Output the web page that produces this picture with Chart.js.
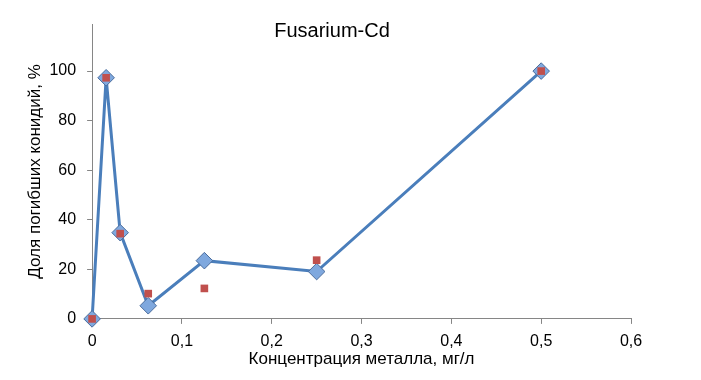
<!DOCTYPE html>
<html>
<head>
<meta charset="utf-8">
<script src="https://cdn.jsdelivr.net/npm/chart.js@4/dist/chart.umd.min.js"></script>
<style>
html,body{margin:0;padding:0;background:#fff;}
#wrap{width:701px;height:380px;}
</style>
</head>
<body>
<div id="wrap"><canvas id="c" width="701" height="380"></canvas></div>
<script>
const chartTitle = "Fusarium-Cd";
const xAxisTitle = "Концентрация металла, мг/л";
const yAxisTitle = "Доля погибших конидий, %";
const concentrations = [0, 0.015625, 0.03125, 0.0625, 0.125, 0.25, 0.5];
const seriesLine = [0, 97.3, 34.8, 5.3, 23.5, 19.1, 100];
const seriesSquares = [0, 97.3, 34.4, 10.2, 12.3, 23.7, 100];
const xTicks = [0, 0.1, 0.2, 0.3, 0.4, 0.5, 0.6];
const yTicks = [0, 20, 40, 60, 80, 100];

const toPts = (ys) => concentrations.map((x, i) => ({x: x, y: ys[i]}));
const FONT = "'Liberation Sans', Arial, sans-serif";

const titlePlugin = {
  id: 'fixedTitle',
  afterDraw(chart) {
    const ctx = chart.ctx;
    ctx.save();
    ctx.font = "20px " + FONT;
    ctx.fillStyle = "#000";
    ctx.textAlign = "center";
    ctx.textBaseline = "alphabetic";
    ctx.fillText(chartTitle, 332, 37);
    ctx.restore();
  }
};

new Chart(document.getElementById('c'), {
  type: 'scatter',
  data: {
    datasets: [
      {
        label: 'squares',
        data: toPts(seriesSquares),
        showLine: false,
        clip: false,
        pointStyle: 'rect',
        pointRadius: 5.4,
        pointHoverRadius: 5.4,
        backgroundColor: '#c0504d',
        borderColor: '#c0504d',
        borderWidth: 0
      },
      {
        label: 'line',
        data: toPts(seriesLine),
        showLine: true,
        clip: false,
        borderColor: '#4a7ebb',
        borderWidth: 3,
        pointStyle: 'rectRot',
        pointRadius: 8.3,
        pointHoverRadius: 8.3,
        pointBackgroundColor: '#7fa8de',
        pointBorderColor: '#4a6c9c',
        pointBorderWidth: 1,
        tension: 0
      }
    ]
  },
  options: {
    responsive: false,
    animation: false,
    devicePixelRatio: 1,
    layout: {padding: {left: 25, right: 70, top: 24, bottom: 10}},
    plugins: {legend: {display: false}, tooltip: {enabled: false}, title: {display: false}},
    scales: {
      x: {
        type: 'linear',
        min: 0, max: 0.6,
        afterBuildTicks: (axis) => { axis.ticks = xTicks.map(v => ({value: v})); },
        ticks: {
          font: {family: FONT, size: 16},
          color: '#000',
          padding: 8,
          maxRotation: 0,
          callback: (v) => String(Math.round(v * 10) / 10).replace('.', ',')
        },
        grid: {drawOnChartArea: false, drawTicks: true, tickLength: 5, color: '#868686'},
        border: {display: true, color: '#868686', width: 1},
        title: {display: true, text: xAxisTitle, font: {family: FONT, size: 17}, color: '#000', padding: {top: -9.5, bottom: 0}}
      },
      y: {
        type: 'linear',
        min: 0, max: 119,
        afterBuildTicks: (axis) => { axis.ticks = yTicks.map(v => ({value: v})); },
        ticks: {
          font: {family: FONT, size: 16},
          color: '#000',
          padding: 11,
          callback: (v) => String(v)
        },
        grid: {drawOnChartArea: false, drawTicks: true, tickLength: 5, color: '#868686'},
        border: {display: true, color: '#868686', width: 1},
        title: {display: true, text: yAxisTitle, font: {family: FONT, size: 17}, color: '#000', padding: {top: 0, bottom: -7}}
      }
    }
  },
  plugins: [titlePlugin]
});
</script>
</body>
</html>
